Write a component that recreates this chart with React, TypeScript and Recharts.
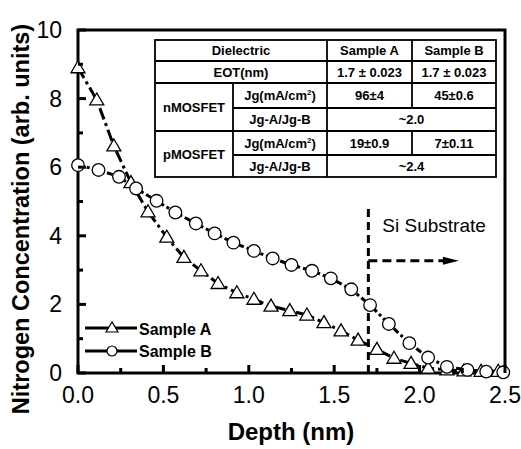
import { LineChart, Line, XAxis, YAxis, ReferenceArea, ReferenceLine } from "recharts";

// nitrogen depth profiles
const depthA = [0.0, 0.11, 0.21, 0.31, 0.41, 0.52, 0.62, 0.72, 0.82, 0.93, 1.03, 1.13, 1.24, 1.34, 1.44, 1.54, 1.64, 1.75, 1.85, 1.95, 2.05, 2.16, 2.26, 2.36, 2.46];
const nitrogenA = [8.9, 7.96, 6.62, 5.55, 4.7, 3.96, 3.37, 2.98, 2.61, 2.34, 2.15, 1.95, 1.82, 1.69, 1.47, 1.23, 0.96, 0.69, 0.43, 0.28, 0.14, 0.09, 0.06, 0.05, 0.05];
const depthB = [0.0, 0.12, 0.24, 0.34, 0.46, 0.57, 0.69, 0.8, 0.91, 1.03, 1.14, 1.25, 1.37, 1.48, 1.6, 1.71, 1.82, 1.94, 2.05, 2.16, 2.28, 2.39, 2.49];
const nitrogenB = [6.06, 5.92, 5.72, 5.38, 5.02, 4.68, 4.36, 4.07, 3.8, 3.56, 3.34, 3.15, 2.98, 2.76, 2.44, 1.98, 1.43, 0.87, 0.45, 0.18, 0.09, 0.04, 0.02];

const xTicks = [0, 0.25, 0.5, 0.75, 1, 1.25, 1.5, 1.75, 2, 2.25, 2.5];
const yTicks = [0, 1, 2, 3, 4, 5, 6, 7, 8, 9, 10];

const substrateDepth = 1.7;

const tableHead = ["Dielectric", "Sample A", "Sample B"];
const eot = ["EOT(nm)", "1.7 \u00b1 0.023", "1.7 \u00b1 0.023"];
const nmos = { name: "nMOSFET", jg: ["96\u00b14", "45\u00b10.6"], ratio: "~2.0" };
const pmos = { name: "pMOSFET", jg: ["19\u00b10.9", "7\u00b10.11"], ratio: "~2.4" };

const sampleA = depthA.map((x, i) => ({ x, y: nitrogenA[i] }));
const sampleB = depthB.map((x, i) => ({ x, y: nitrogenB[i] }));

const font = "'Liberation Sans', Arial, sans-serif";

function Triangle(props: any) {
  const { cx, cy } = props;
  if (cx == null || cy == null) return null;
  return (
    <polygon
      points={`${cx},${cy - 7} ${cx - 7},${cy + 5} ${cx + 7},${cy + 5}`}
      fill="#fff"
      stroke="#000"
      strokeWidth={1.3}
    />
  );
}

function Circle(props: any) {
  const { cx, cy } = props;
  if (cx == null || cy == null) return null;
  return <circle cx={cx} cy={cy} r={6.3} fill="#fff" stroke="#000" strokeWidth={1.3} />;
}

function XTick(props: any) {
  const { x, y, payload } = props;
  const major = Math.abs(payload.value * 2 - Math.round(payload.value * 2)) < 1e-6;
  return (
    <g>
      <line x1={x} x2={x} y1={y} y2={y - (major ? 8 : 5)} stroke="#000" strokeWidth={3} />
      {major && (
        <text x={x} y={y + 30} textAnchor="middle" fontSize={23} fontFamily={font} fill="#000">
          {payload.value.toFixed(1)}
        </text>
      )}
    </g>
  );
}

function YTick(props: any) {
  const { x, y, payload } = props;
  const major = payload.value % 2 === 0;
  return (
    <g>
      <line x1={x} x2={x + (major ? 8 : 5)} y1={y} y2={y} stroke="#000" strokeWidth={3} />
      {major && (
        <text x={x - 16} y={y + 8} textAnchor="end" fontSize={23} fontFamily={font} fill="#000">
          {payload.value}
        </text>
      )}
    </g>
  );
}

function SubstrateArrow(props: any) {
  const { x1, y1, x2, y2 } = props;
  return (
    <g>
      <line x1={x1} y1={y1} x2={x2 - 10} y2={y2} stroke="#000" strokeWidth={3} strokeDasharray="9 5" />
      <polygon points={`${x2},${y2} ${x2 - 16},${y2 - 4} ${x2 - 16},${y2 + 4}`} fill="#000" />
      <text x={x1 + 14} y={y1 - 29} fontSize={19} fontFamily={font} fill="#000">
        Si Substrate
      </text>
    </g>
  );
}

function InsetTable() {
  const cols = [155, 233, 327, 412, 496];
  const rows = [40, 61, 83, 108, 131, 155, 177];
  const mid = (a: number, b: number) => (a + b) / 2;
  const cell = (x0: number, x1: number, y0: number, y1: number, content: any, key: string) => (
    <text key={key} x={mid(x0, x1)} y={mid(y0, y1) + 4.5} textAnchor="middle" fontSize={13} fontWeight="bold" fontFamily={font}>
      {content}
    </text>
  );
  const jg = (
    <>
      Jg(mA/cm<tspan dy={-5} fontSize={8}>2</tspan>
      <tspan dy={5}>)</tspan>
    </>
  );
  const s = { stroke: "#000", strokeWidth: 1.8 };
  return (
    <g>
      <rect x={cols[0]} y={rows[0]} width={cols[4] - cols[0]} height={rows[6] - rows[0]} fill="#fff" {...s} />
      <line x1={cols[0]} x2={cols[4]} y1={rows[1]} y2={rows[1]} {...s} />
      <line x1={cols[0]} x2={cols[4]} y1={rows[2]} y2={rows[2]} {...s} />
      <line x1={cols[1]} x2={cols[4]} y1={rows[3]} y2={rows[3]} {...s} />
      <line x1={cols[0]} x2={cols[4]} y1={rows[4]} y2={rows[4]} {...s} />
      <line x1={cols[1]} x2={cols[4]} y1={rows[5]} y2={rows[5]} {...s} />
      <line x1={cols[2]} x2={cols[2]} y1={rows[0]} y2={rows[6]} {...s} />
      <line x1={cols[1]} x2={cols[1]} y1={rows[2]} y2={rows[6]} {...s} />
      <line x1={cols[3]} x2={cols[3]} y1={rows[0]} y2={rows[3]} {...s} />
      <line x1={cols[3]} x2={cols[3]} y1={rows[4]} y2={rows[5]} {...s} />
      {cell(cols[0], cols[2], rows[0], rows[1], tableHead[0], "h0")}
      {cell(cols[2], cols[3], rows[0], rows[1], tableHead[1], "h1")}
      {cell(cols[3], cols[4], rows[0], rows[1], tableHead[2], "h2")}
      {cell(cols[0], cols[2], rows[1], rows[2], eot[0], "e0")}
      {cell(cols[2], cols[3], rows[1], rows[2], eot[1], "e1")}
      {cell(cols[3], cols[4], rows[1], rows[2], eot[2], "e2")}
      {cell(cols[0], cols[1], rows[2], rows[4], nmos.name, "n0")}
      {cell(cols[1], cols[2], rows[2], rows[3], jg, "n1")}
      {cell(cols[2], cols[3], rows[2], rows[3], nmos.jg[0], "n2")}
      {cell(cols[3], cols[4], rows[2], rows[3], nmos.jg[1], "n3")}
      {cell(cols[1], cols[2], rows[3], rows[4], "Jg-A/Jg-B", "n4")}
      {cell(cols[2], cols[4], rows[3], rows[4], nmos.ratio, "n5")}
      {cell(cols[0], cols[1], rows[4], rows[6], pmos.name, "p0")}
      {cell(cols[1], cols[2], rows[4], rows[5], jg, "p1")}
      {cell(cols[2], cols[3], rows[4], rows[5], pmos.jg[0], "p2")}
      {cell(cols[3], cols[4], rows[4], rows[5], pmos.jg[1], "p3")}
      {cell(cols[1], cols[2], rows[5], rows[6], "Jg-A/Jg-B", "p4")}
      {cell(cols[2], cols[4], rows[5], rows[6], pmos.ratio, "p5")}
    </g>
  );
}

function Overlay() {
  return (
    <svg width={521} height={449} style={{ position: "absolute", left: 0, top: 0, pointerEvents: "none" }}>
      <InsetTable />
      <g>
        <line x1={85} x2={137} y1={328} y2={328} stroke="#000" strokeWidth={3} />
        <polygon points="112,322 106,332 118,332" fill="#fff" stroke="#000" strokeWidth={1.2} />
        <text x={139} y={335} fontSize={16} fontWeight="bold" fontFamily={font}>Sample A</text>
        <line x1={85} x2={137} y1={351} y2={351} stroke="#000" strokeWidth={3} />
        <circle cx={112} cy={351} r={5} fill="#fff" stroke="#000" strokeWidth={1.2} />
        <text x={139} y={357} fontSize={16} fontWeight="bold" fontFamily={font}>Sample B</text>
      </g>
      <text x={291} y={440} textAnchor="middle" fontSize={24} fontWeight="bold" fontFamily={font}>
        Depth (nm)
      </text>
      <text
        transform="translate(29,219) rotate(-90)"
        textAnchor="middle"
        fontSize={23.5}
        fontWeight="bold"
        fontFamily={font}
      >
        Nitrogen Concentration (arb. units)
      </text>
    </svg>
  );
}

export default function App() {
  return (
    <div style={{ position: "absolute", left: 0, top: 0, width: 521, height: 449, background: "#fff" }}>
      <LineChart width={521} height={449} margin={{ top: 30, right: 16, bottom: 0, left: 0 }}>
        <XAxis
          dataKey="x"
          type="number"
          domain={[0, 2.5]}
          ticks={xTicks}
          interval={0}
          height={76}
          axisLine={false}
          tickLine={false}
          tickSize={0}
          tickMargin={0}
          tick={<XTick />}
        />
        <YAxis
          type="number"
          domain={[0, 10]}
          ticks={yTicks}
          interval={0}
          width={78}
          axisLine={false}
          tickLine={false}
          tickSize={0}
          tickMargin={0}
          tick={<YTick />}
        />
        <ReferenceLine
          segment={[{ x: substrateDepth, y: 0 }, { x: substrateDepth, y: 4.84 }]}
          stroke="#000"
          strokeWidth={3}
          strokeDasharray="8 5"
        />
        <ReferenceLine
          segment={[{ x: substrateDepth, y: 3.27 }, { x: 2.23, y: 3.27 }]}
          shape={<SubstrateArrow />}
        />
        <Line
          data={sampleA}
          dataKey="y"
          stroke="#000"
          strokeWidth={3}
          strokeDasharray="12 4 3 4"
          dot={<Triangle />}
          isAnimationActive={false}
        />
        <Line
          data={sampleB}
          dataKey="y"
          stroke="#000"
          strokeWidth={3}
          strokeDasharray="6 3 3 3"
          dot={<Circle />}
          isAnimationActive={false}
        />
        <ReferenceArea x1={0} x2={2.5} y1={0} y2={10} fill="none" stroke="#000" strokeWidth={3} />
      </LineChart>
      <Overlay />
    </div>
  );
}
